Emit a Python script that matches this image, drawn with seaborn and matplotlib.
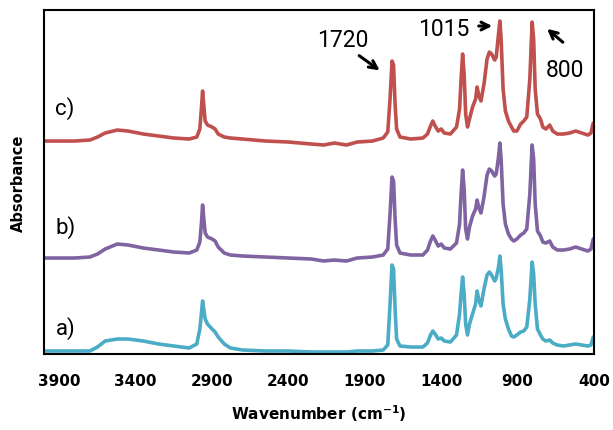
import matplotlib
matplotlib.use("Agg")
import matplotlib.pyplot as plt
import pandas as pd
import seaborn as sns

# ---- data (stacked FTIR spectra) ----
wavenumber = [
    4000, 3800, 3700, 3650, 3600, 3520, 3450, 3350, 3250, 3150,
    3050, 3000, 2980, 2970, 2962, 2955, 2945, 2930, 2900, 2880,
    2860, 2820, 2780, 2700, 2550, 2400, 2250, 2170, 2100, 2020,
    1950, 1850, 1780, 1750, 1735, 1722, 1712, 1702, 1692, 1670,
    1600, 1520, 1490, 1470, 1455, 1440, 1420, 1400, 1380, 1340,
    1300, 1280, 1270, 1260, 1250, 1240, 1228, 1215, 1195, 1175,
    1165, 1155, 1140, 1120, 1100, 1085, 1070, 1050, 1040, 1025,
    1016, 1008, 995, 980, 960, 940, 925, 905, 880, 860,
    840, 820, 805, 795, 785, 770, 750, 735, 715, 690,
    670, 640, 600, 560, 520, 480, 440, 420, 405, 400,
]

absorbance_a = [
    0.03, 0.03, 0.03, 0.07, 0.13, 0.15, 0.15, 0.13, 0.10, 0.08,
    0.06, 0.10, 0.25, 0.40, 0.53, 0.45, 0.35, 0.30, 0.25, 0.22,
    0.17, 0.10, 0.06, 0.04, 0.03, 0.03, 0.02, 0.02, 0.02, 0.02,
    0.03, 0.03, 0.04, 0.09, 0.50, 0.89, 0.85, 0.45, 0.15, 0.08,
    0.07, 0.07, 0.11, 0.19, 0.23, 0.20, 0.15, 0.16, 0.13, 0.12,
    0.19, 0.40, 0.60, 0.77, 0.60, 0.30, 0.19, 0.30, 0.40, 0.50,
    0.63, 0.55, 0.48, 0.65, 0.79, 0.82, 0.79, 0.73, 0.76, 0.87,
    0.98, 0.85, 0.50, 0.35, 0.25, 0.18, 0.17, 0.19, 0.22, 0.23,
    0.27, 0.55, 0.92, 0.80, 0.50, 0.25, 0.19, 0.15, 0.13, 0.14,
    0.11, 0.09, 0.08, 0.09, 0.10, 0.09, 0.08, 0.09, 0.17, 0.16,
]

absorbance_b = [
    0.96, 0.96, 0.97, 1.00, 1.05, 1.10, 1.09, 1.06, 1.04, 1.02,
    1.01, 1.04, 1.12, 1.30, 1.49, 1.37, 1.21, 1.17, 1.15, 1.13,
    1.07, 1.01, 0.99, 0.98, 0.97, 0.96, 0.95, 0.93, 0.94, 0.93,
    0.96, 0.97, 0.99, 1.05, 1.40, 1.77, 1.73, 1.35, 1.09, 1.01,
    0.99, 0.99, 1.04, 1.13, 1.18, 1.14, 1.08, 1.10, 1.06, 1.05,
    1.11, 1.30, 1.60, 1.84, 1.65, 1.25, 1.15, 1.27, 1.38, 1.45,
    1.54, 1.47, 1.41, 1.57, 1.79, 1.85, 1.83, 1.78, 1.80, 1.97,
    2.11, 1.95, 1.50, 1.30, 1.20, 1.15, 1.13, 1.15, 1.19, 1.21,
    1.25, 1.60, 2.09, 1.95, 1.50, 1.23, 1.18, 1.12, 1.11, 1.13,
    1.07, 1.04, 1.04, 1.05, 1.07, 1.05, 1.03, 1.05, 1.15, 1.14,
]

absorbance_c = [
    2.13, 2.13, 2.14, 2.17, 2.21, 2.24, 2.23, 2.20, 2.18, 2.16,
    2.15, 2.17, 2.25, 2.45, 2.63, 2.50, 2.33, 2.29, 2.27, 2.25,
    2.20, 2.17, 2.16, 2.15, 2.13, 2.12, 2.10, 2.09, 2.11, 2.09,
    2.12, 2.13, 2.16, 2.22, 2.55, 2.93, 2.89, 2.50, 2.25, 2.17,
    2.15, 2.16, 2.20, 2.28, 2.33, 2.28, 2.23, 2.25, 2.21, 2.20,
    2.27, 2.45, 2.75, 3.00, 2.80, 2.40, 2.27, 2.35, 2.47, 2.55,
    2.67, 2.59, 2.53, 2.70, 2.95, 3.02, 3.00, 2.94, 2.97, 3.20,
    3.33, 3.15, 2.65, 2.43, 2.33, 2.27, 2.23, 2.23, 2.30, 2.33,
    2.37, 2.75, 3.32, 3.15, 2.65, 2.40, 2.35, 2.27, 2.25, 2.29,
    2.23, 2.20, 2.20, 2.21, 2.23, 2.21, 2.19, 2.21, 2.31, 2.30,
]

sample_names = ["a)", "b)", "c)"]
line_colors = ["#4BACC6", "#8064A2", "#C0504D"]
x_ticks = [3900, 3400, 2900, 2400, 1900, 1400, 900, 400]
peak_labels = ["1720", "1015", "800"]

df = pd.concat([
    pd.DataFrame({"Wavenumber": wavenumber, "Absorbance": absorbance_a, "Sample": "a)"}),
    pd.DataFrame({"Wavenumber": wavenumber, "Absorbance": absorbance_b, "Sample": "b)"}),
    pd.DataFrame({"Wavenumber": wavenumber, "Absorbance": absorbance_c, "Sample": "c)"}),
])

sns.set_style("white")
plt.rcParams['font.family'] = ['DejaVu Sans']
plt.rcParams['text.color'] = 'black'
plt.rcParams['axes.labelcolor'] = 'black'
plt.rcParams['xtick.color'] = 'black'

fig = plt.figure(figsize=(6.13, 4.31), dpi=100)
ax = fig.add_axes([0.0718, 0.1763, 0.8972, 0.7981])

sns.lineplot(data=df, x="Wavenumber", y="Absorbance", hue="Sample",
             palette=dict(zip(sample_names, line_colors)), linewidth=2.6,
             legend=False, ax=ax, estimator=None)

ax.set_xlim(4000, 400)
ax.set_ylim(0, 3.44)
ax.set_xticks(x_ticks)
ax.set_xticklabels([str(t) for t in x_ticks], fontsize=11, fontweight="bold", color="black")
ax.set_yticks([])
ax.tick_params(axis="x", direction="in", length=4, width=1.5, pad=14, color="black")
for sp in ax.spines.values():
    sp.set_color("black")
    sp.set_linewidth(1.5)

ax.set_xlabel("Wavenumber (cm$^{\\mathbf{-1}}$)", fontsize=11, fontweight="bold", labelpad=10)
ax.set_ylabel("Absorbance", fontsize=10.5, fontweight="bold", labelpad=13)

# sample labels next to each trace
for name, ypos in zip(sample_names, [0.27, 1.28, 2.47]):
    ax.text(3925, ypos, name, fontsize=16, ha="left", va="center", family="Roboto")

# peak annotations
arrow = dict(arrowstyle="->", color="black", lw=2.2, mutation_scale=14)
ax.text(2046, 3.145, peak_labels[0], fontsize=16.5, ha="center", va="center", family="Roboto")
ax.annotate("", xy=(1788, 2.82), xytext=(1952, 3.00), arrowprops=arrow)
ax.text(1382, 3.26, peak_labels[1], fontsize=16.5, ha="center", va="center", family="Roboto")
ax.annotate("", xy=(1048, 3.28), xytext=(1173, 3.28), arrowprops=arrow)
ax.text(590, 2.85, peak_labels[2], fontsize=16.5, ha="center", va="center", family="Roboto")
ax.annotate("", xy=(721, 3.27), xytext=(590, 3.10), arrowprops=arrow)

fig.savefig("out.png", dpi=100)
